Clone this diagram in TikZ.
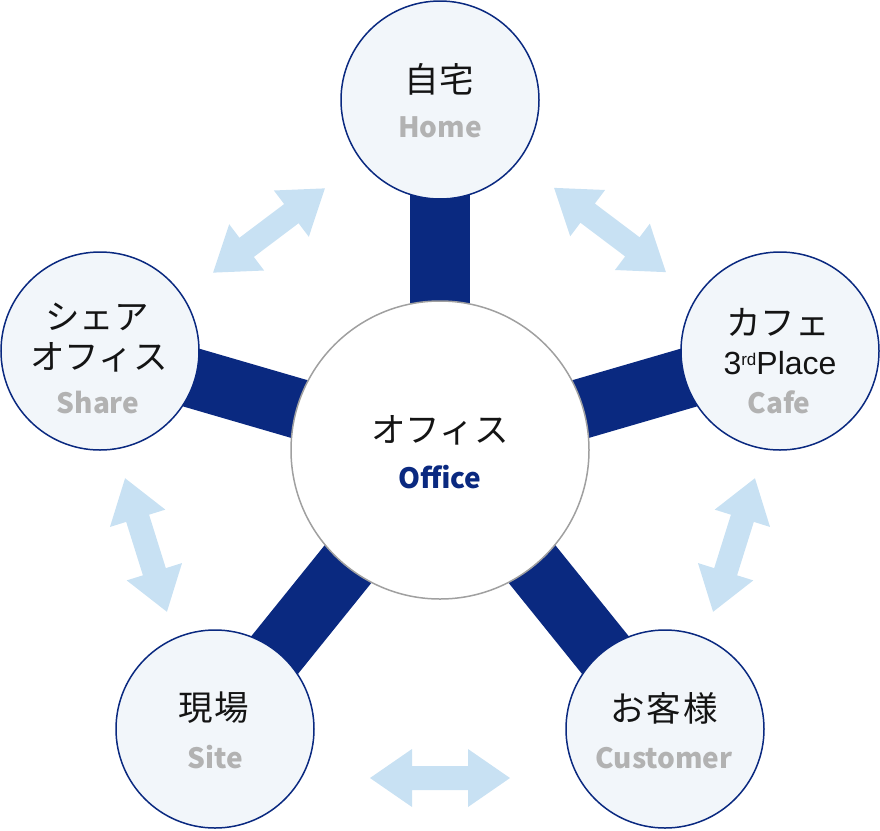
\documentclass[tikz,border=0pt]{standalone}
\usepackage{fontspec}
\setmainfont{Noto Sans CJK JP}
\newfontfamily\latinfont{Liberation Sans}
\usepackage{xcolor}
\usetikzlibrary{backgrounds}

\definecolor{navy}{RGB}{10,41,128}
\definecolor{paleblue}{RGB}{242,246,250}
\definecolor{sky}{RGB}{200,225,243}
\definecolor{labelgray}{RGB}{178,178,178}
\definecolor{hubgray}{RGB}{160,160,160}

\begin{document}
\begin{tikzpicture}[
  x=1pt, y=-1pt,
  spot/.style={circle, draw=navy, line width=1.5pt, fill=paleblue, minimum size=198pt, inner sep=0pt},
  hub/.style={circle, draw=hubgray, line width=1.5pt, fill=white, minimum size=298pt, inner sep=0pt},
  spoke/.style={navy, line width=60pt},
  jp/.style={inner sep=0pt, text=black!92, font=\fontsize{34.5}{40}\selectfont},
  en/.style={inner sep=0pt, text=labelgray, font=\fontsize{28}{34}\selectfont\bfseries},
  twoway/.style={fill=sky}
]
\useasboundingbox (0,0) rectangle (880,830);

% centre and the five places
\node[hub] (office) at (440,450) {};
\node[spot] (home) at (440,100) {};
\node[spot] (cafe) at (780,351) {};
\node[spot] (customer) at (665,729) {};
\node[spot] (site) at (215,729) {};
\node[spot] (share) at (100,351) {};

\begin{scope}[on background layer]
  \foreach \place in {home, cafe, customer, site, share}
    \draw[spoke] (office.center) -- (\place.center);
\end{scope}

% two-way arrows between neighbours
\foreach \mx/\my/\ang in {269/230.5/37, 610/230/-37, 146/545/-72.6, 734/545/72.6, 440/778/0}
  \fill[twoway, shift={(\mx,\my)}, rotate=\ang]
    (-70,0) -- (-28,-29) -- (-28,-12) -- (28,-12) -- (28,-29) -- (70,0)
    -- (28,29) -- (28,12) -- (-28,12) -- (-28,29) -- cycle;

\node[jp] (office-jp) at (440,430) {オフィス};
\node[en, text=navy] (office-en) at (440,477) {Office};

\node[jp] (home-jp) at (439,79) {自宅};
\node[en] (home-en) at (440,127) {Home};

\node[jp] (cafe-jp) at (778,322) {カフェ};
\node[inner sep=0pt, text=black!92, font=\latinfont\fontsize{32}{36}\selectfont] (cafe-sub) at (780,363)
  {3\raisebox{9pt}{\fontsize{17}{17}\selectfont rd}Place};
\node[en] (cafe-en) at (779,402) {Cafe};

\node[jp] (customer-jp) at (664,708) {お\hspace{2pt}客\hspace{2pt}様};
\node[en] (customer-en) at (664,758) {Customer};

\node[jp] (site-jp) at (214,708) {現\hspace{2pt}場};
\node[en] (site-en) at (215,757) {Site};

\node[jp] (share-jp1) at (97,317) {シェア};
\node[jp] (share-jp2) at (99,357) {オフィス};
\node[en] (share-en) at (98,403) {Share};
\end{tikzpicture}
\end{document}
